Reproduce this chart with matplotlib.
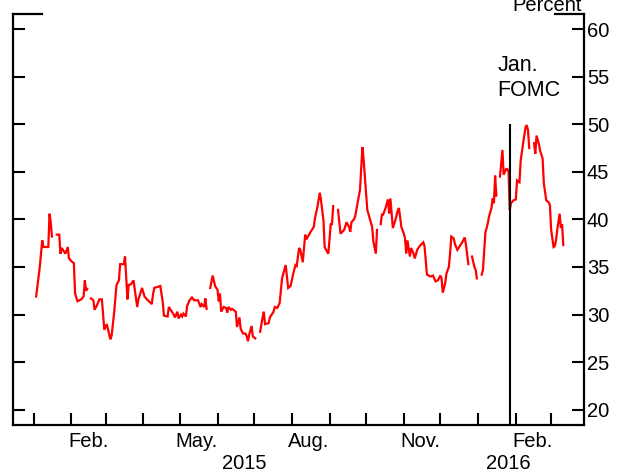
import numpy as np
import pandas as pd
import matplotlib
matplotlib.use("Agg")
import matplotlib.pyplot as plt
import matplotlib.dates as mdates
import matplotlib.transforms as mtransforms

plt.rcParams["font.family"] = ["Liberation Sans", "DejaVu Sans"]

nan = np.nan

# Daily readings, percent; NaN marks breaks in the series.
dates_2015 = [
    "2015-01-03", "2015-01-06", "2015-01-08", "2015-01-09", "2015-01-13", "2015-01-14",
    "2015-01-15", "2015-01-16", "2015-01-18",
    "2015-01-20", "2015-01-22", "2015-01-23", "2015-01-24", "2015-01-26", "2015-01-27",
    "2015-01-29", "2015-01-30", "2015-02-01", "2015-02-03", "2015-02-04", "2015-02-06",
    "2015-02-09", "2015-02-11", "2015-02-12", "2015-02-13", "2015-02-14", "2015-02-16",
    "2015-02-17", "2015-02-19", "2015-02-20", "2015-02-22", "2015-02-24", "2015-02-26",
    "2015-02-28", "2015-03-02", "2015-03-05", "2015-03-06", "2015-03-08", "2015-03-10",
    "2015-03-12", "2015-03-13", "2015-03-16", "2015-03-17", "2015-03-19", "2015-03-20",
    "2015-03-22", "2015-03-24", "2015-03-27", "2015-03-28", "2015-03-31", "2015-04-02",
    "2015-04-04", "2015-04-08", "2015-04-09", "2015-04-10", "2015-04-15", "2015-04-17",
    "2015-04-18", "2015-04-21", "2015-04-22", "2015-04-24", "2015-04-26", "2015-04-27",
    "2015-04-29", "2015-04-30", "2015-05-02", "2015-05-03", "2015-05-04", "2015-05-06",
    "2015-05-07", "2015-05-09", "2015-05-11", "2015-05-13", "2015-05-16", "2015-05-18",
    "2015-05-19", "2015-05-21", "2015-05-22", "2015-05-23", "2015-05-25",
    "2015-05-26", "2015-05-28", "2015-05-30", "2015-06-01", "2015-06-02", "2015-06-03",
    "2015-06-04", "2015-06-06", "2015-06-08", "2015-06-09", "2015-06-10", "2015-06-12",
    "2015-06-13", "2015-06-16", "2015-06-17", "2015-06-19", "2015-06-20", "2015-06-22",
    "2015-06-24", "2015-06-25", "2015-06-26", "2015-06-27", "2015-06-29", "2015-06-30",
    "2015-07-02", "2015-07-04",
    "2015-07-06", "2015-07-08", "2015-07-09", "2015-07-10", "2015-07-13", "2015-07-14",
    "2015-07-17", "2015-07-18", "2015-07-20", "2015-07-22", "2015-07-24", "2015-07-25",
    "2015-07-27", "2015-07-29", "2015-07-31", "2015-08-02", "2015-08-04", "2015-08-05",
    "2015-08-07", "2015-08-08", "2015-08-10", "2015-08-12", "2015-08-13", "2015-08-16",
    "2015-08-19", "2015-08-20", "2015-08-22", "2015-08-24", "2015-08-25", "2015-08-27",
    "2015-08-28", "2015-08-30", "2015-08-31", "2015-09-02", "2015-09-03", "2015-09-04",
    "2015-09-06",
    "2015-09-08", "2015-09-10", "2015-09-13", "2015-09-15", "2015-09-17", "2015-09-18",
    "2015-09-19", "2015-09-21", "2015-09-22", "2015-09-24", "2015-09-26", "2015-09-28",
    "2015-09-29", "2015-10-02", "2015-10-04", "2015-10-06", "2015-10-07", "2015-10-09",
    "2015-10-10", "2015-10-12",
    "2015-10-13", "2015-10-14", "2015-10-15", "2015-10-17", "2015-10-19", "2015-10-20",
    "2015-10-21", "2015-10-23", "2015-10-25", "2015-10-27", "2015-10-28", "2015-10-30",
    "2015-11-01", "2015-11-02", "2015-11-03", "2015-11-04", "2015-11-06", "2015-11-07",
    "2015-11-09", "2015-11-10", "2015-11-12", "2015-11-14", "2015-11-17", "2015-11-18",
    "2015-11-20", "2015-11-23", "2015-11-25", "2015-11-27", "2015-11-29", "2015-12-01",
    "2015-12-02", "2015-12-03", "2015-12-05", "2015-12-06", "2015-12-08", "2015-12-09",
    "2015-12-10", "2015-12-12", "2015-12-13", "2015-12-15", "2015-12-17", "2015-12-19",
    "2015-12-21", "2015-12-22", "2015-12-24", "2015-12-26",
    "2015-12-27", "2015-12-29", "2015-12-30", "2015-12-31",
]
values_2015 = [
    31.9, 35.0, 37.8, 37.1, 37.1, 40.6,
    39.7, 38.2, nan,
    38.4, 38.4, 36.4, 37.0, 36.6, 36.4,
    37.1, 35.9, 35.6, 35.4, 32.2, 31.4,
    31.6, 31.9, 33.6, 32.5, 32.7, nan,
    31.7, 31.5, 30.5, 31.0, 31.6, 31.6,
    28.4, 29.0, 27.4, 27.8, 30.1, 33.1,
    33.6, 35.3, 35.3, 36.1, 31.6, 33.1,
    33.2, 33.6, 30.8, 31.6, 32.8, 31.9,
    31.6, 31.1, 32.1, 32.8, 33.0, 31.3,
    29.9, 29.8, 30.8, 30.4, 30.0, 29.7,
    30.3, 29.6, 30.0, 29.8, 30.1, 29.8,
    30.9, 31.5, 31.8, 31.5, 31.5, 30.8,
    31.1, 30.8, 31.7, 30.6, nan,
    32.8, 34.1, 33.0, 32.6, 31.4, 32.2,
    30.3, 30.8, 30.7, 30.2, 30.8, 30.5,
    30.6, 30.3, 28.7, 29.7, 28.5, 28.0,
    28.0, 27.7, 27.2, 27.9, 28.8, 27.7,
    27.5, nan,
    28.2, 29.7, 30.3, 29.0, 29.1, 29.7,
    30.3, 30.8, 30.7, 31.2, 33.8, 34.3,
    35.2, 32.8, 33.0, 34.2, 35.2, 35.1,
    37.0, 36.8, 35.5, 38.4, 37.9, 38.6,
    39.2, 40.1, 41.3, 42.8, 42.0, 39.9,
    37.1, 36.6, 36.4, 39.5, 39.5, 41.4,
    nan,
    41.0, 38.5, 38.9, 39.7, 39.2, 38.7,
    39.7, 40.0, 40.3, 41.7, 43.1, 47.6,
    46.3, 41.0, 40.1, 39.2, 37.7, 36.4,
    38.9, nan,
    39.5, 40.5, 40.5, 41.2, 42.1, 40.6,
    42.2, 39.1, 39.9, 40.9, 41.2, 39.2,
    38.5, 38.0, 36.4, 37.8, 36.1, 37.0,
    36.4, 35.9, 36.8, 37.2, 37.6, 37.2,
    34.2, 34.0, 34.1, 33.5, 33.6, 34.1,
    33.8, 32.3, 33.3, 34.3, 35.0, 36.4,
    38.2, 38.0, 37.4, 36.8, 37.2, 37.6,
    38.1, 37.4, 35.3, nan,
    36.1, 35.0, 34.7, 33.8,
]

dates_2016 = [
    "2016-01-02",
    "2016-01-04", "2016-01-05", "2016-01-07", "2016-01-09", "2016-01-10", "2016-01-12",
    "2016-01-13", "2016-01-14", "2016-01-15", "2016-01-16", "2016-01-17",
    "2016-01-19", "2016-01-21", "2016-01-22", "2016-01-24", "2016-01-25", "2016-01-26",
    "2016-01-27", "2016-01-28", "2016-01-30", "2016-02-01", "2016-02-02", "2016-02-04",
    "2016-02-05", "2016-02-07", "2016-02-09", "2016-02-10", "2016-02-11", "2016-02-12",
    "2016-02-14",
    "2016-02-16", "2016-02-17", "2016-02-18", "2016-02-20", "2016-02-21", "2016-02-23",
    "2016-02-24", "2016-02-26", "2016-02-28", "2016-02-29", "2016-03-01", "2016-03-03",
    "2016-03-04", "2016-03-05", "2016-03-06", "2016-03-08", "2016-03-09", "2016-03-10",
    "2016-03-11",
]
values_2016 = [
    nan,
    34.2, 34.7, 38.6, 39.6, 40.3, 41.2,
    42.2, 41.7, 44.6, 42.5, nan,
    44.5, 47.3, 44.7, 45.3, 45.3, 45.0,
    41.0, 41.7, 42.0, 42.1, 44.1, 43.9,
    46.2, 48.0, 49.7, 49.9, 49.4, 47.5,
    nan,
    48.0, 46.9, 48.8, 47.9, 47.2, 46.4,
    43.8, 42.0, 41.8, 41.5, 38.9, 37.1,
    37.2, 37.8, 38.9, 40.6, 39.1, 39.5,
    37.3,
]

fomc_date = "2016-01-27"
fomc_top = 50
y_ticks = [20, 25, 30, 35, 40, 45, 50, 55, 60]
month_labels = {"2015-02-15": "Feb.", "2015-05-15": "May.", "2015-08-15": "Aug.",
                "2015-11-15": "Nov.", "2016-02-15": "Feb."}
year_labels = {"2015-06-23": "2015", "2016-01-26": "2016"}

dates = pd.to_datetime(dates_2015 + dates_2016)
values = np.array(values_2015 + values_2016, dtype=float)

y_lo, y_hi = 18.4, 61.58
x_lo, x_hi = pd.Timestamp("2014-12-15"), pd.Timestamp("2016-03-28")
fs = 14.5

fig = plt.figure(figsize=(6.21, 4.74), dpi=100)
ax = fig.add_axes([13 / 621, 1 - 425 / 474, 571 / 621, 411 / 474])

ax.plot(dates, values, color="#ff0000", lw=1.6, solid_joinstyle="miter")
ax.vlines(pd.Timestamp(fomc_date), y_lo, fomc_top, color="black", lw=1.5)
ax.text(pd.Timestamp("2016-01-17"), 57.3, "Jan.\nFOMC", fontsize=15.5,
        ha="left", va="top", linespacing=1.25)

ax.set_xlim(x_lo, x_hi)
ax.set_ylim(y_lo, y_hi)

# frame: full left/right/bottom, short caps at the top corners
ax.spines["top"].set_visible(False)
for side in ("left", "right", "bottom"):
    ax.spines[side].set_linewidth(1.6)
cap = 29 / 571
ax.plot([0, cap], [1, 1], transform=ax.transAxes, color="black", lw=1.6,
        clip_on=False, solid_capstyle="projecting")
ax.plot([1 - cap, 1], [1, 1], transform=ax.transAxes, color="black", lw=1.6,
        clip_on=False, solid_capstyle="projecting")

ax.set_yticks(y_ticks)
ax.tick_params(axis="y", direction="in", left=True, right=True, labelleft=False,
               labelright=True, length=8.6, width=1.5, labelsize=fs, pad=2)

ax.xaxis.set_major_locator(mdates.MonthLocator())
ax.xaxis.set_major_formatter(plt.NullFormatter())
ax.set_xticks(pd.to_datetime(list(month_labels.keys())), minor=True)
ax.set_xticklabels(list(month_labels.values()), minor=True)
ax.tick_params(axis="x", which="major", direction="in", length=8.6, width=1.5)
ax.tick_params(axis="x", which="minor", length=0, labelsize=fs, pad=5)

trans = mtransforms.blended_transform_factory(ax.transData, ax.transAxes)
for d, label in year_labels.items():
    ax.text(pd.Timestamp(d), -0.07, label, transform=trans, ha="center",
            va="top", fontsize=fs)

fig.text(582 / 621, 1 - 11 / 474, "Percent", ha="right", va="baseline",
         fontsize=fs)

fig.savefig("out.png", dpi=100)
